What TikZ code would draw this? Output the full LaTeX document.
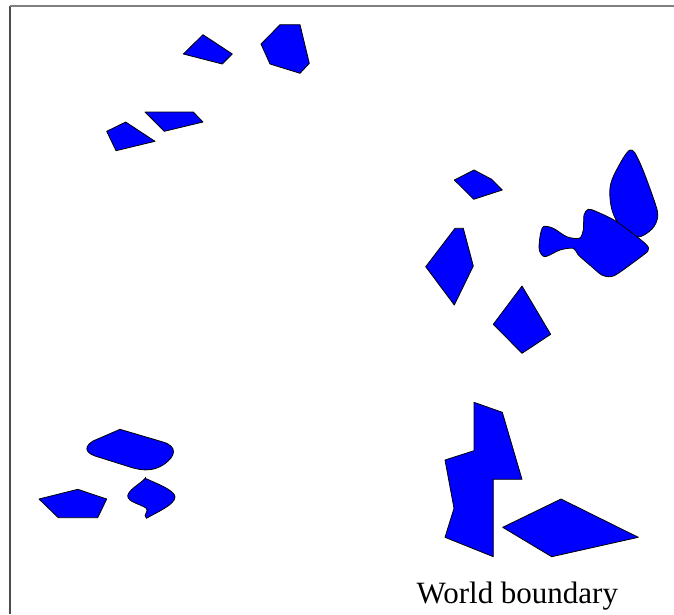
\documentclass[tikz,border=0pt]{standalone}
\usepackage{fontspec}
\setmainfont{Liberation Serif}
\begin{document}
\begin{tikzpicture}[x=1pt,y=-1pt,
  blob/.style={draw=black, fill=blue, line width=0.8pt, line join=round},
  framel/.style={line width=2pt}]
\useasboundingbox (0,0) rectangle (674,614);
% frame
\draw[framel, draw=black!70] (9.5,614) -- (9.5,5.5);
\draw[framel, draw=black!50] (9.5,5.5) -- (674,5.5);
% top-left group
\draw[blob] (183.3,54) -- (203,34.7) -- (232.3,54) -- (222.3,64) -- cycle;
\draw[blob] (261,44) -- (280,24.7) -- (300,24.7) -- (309.3,63.3) -- (300,73.3) -- (270,64) -- cycle;
\draw[blob] (145,112) -- (193.3,112) -- (203,122) -- (164.3,131.3) -- cycle;
\draw[blob] (106.7,131.3) -- (125.7,122) -- (155,141.3) -- (116,150.7) -- cycle;
% right group
\draw[blob] (454.3,180) -- (474,170) -- (491.7,179.3) -- (502.3,190) -- (473.7,199.3) -- cycle;
\draw[blob] (425.7,266.7) -- (455,228.3) -- (463.3,228.3) -- (473.3,266) -- (454.3,305) -- cycle;
\draw[blob] (493.3,324.3) -- (522,286) -- (550.7,334.3) -- (522,353.3) -- cycle;
\draw[blob] plot[smooth cycle, tension=0.55] coordinates {
  (630,150) (640,163) (655,203) (657.7,217) (652,229) (638,237)
  (622,229) (612,210) (610,188) (616,171)};
\draw[blob] plot[smooth cycle, tension=0.5] coordinates {
  (543.3,226.7) (540,236.7) (539.3,250) (545,256.7) (560,250) (573.3,248.3) (578.3,255)
  (591.7,266.7) (601.7,275) (610,276.7) (618.3,273.3) (643.3,255) (648.3,250) (645,243.3)
  (616.7,221.7) (596.7,211.7) (588.3,209.3) (584,215) (583.3,230) (579.3,238.3) (566.7,236.7) (553.3,228.3)};
% bottom-left group
\draw[blob] (120,429.3) -- (163,442) .. controls (177,446) and (177,456) .. (163,465)
  .. controls (155,470) and (145,472) .. (130,467) -- (95,456)
  .. controls (84,452) and (85,446) .. (93,441) -- cycle;
\draw[blob] (39,499) -- (77.7,489.3) -- (106.7,499) -- (97.7,517.7) -- (58.3,517.7) -- cycle;
\draw[blob] (145,478.5) .. controls (140,484) and (128,490) .. (127.7,496)
  .. controls (128,502) and (140,504) .. (146,508)
  .. controls (150,511) and (142,515) .. (146.5,518.3)
  .. controls (155,513) and (175,505) .. (175,497)
  .. controls (175,490) and (155,483) .. (147,479) -- cycle;
\draw[line width=0.8pt] (145,476.5) -- (145,479);
% bottom-right group
\draw[blob] (474,402.3) -- (502.3,412.3) -- (522,479.3) -- (493.3,479.3) -- (493.3,556.7)
  -- (445,537.3) -- (454,508.3) -- (445,460) -- (474,450.7) -- cycle;
\draw[blob] (502.7,527.3) -- (561,499) -- (638.3,537.3) -- (551.7,556.7) -- cycle;
% label
\node[anchor=base, inner sep=0pt, font=\fontsize{31}{37}\selectfont] (lbl) at (517.3,603) {World boundary};
\end{tikzpicture}
\end{document}
